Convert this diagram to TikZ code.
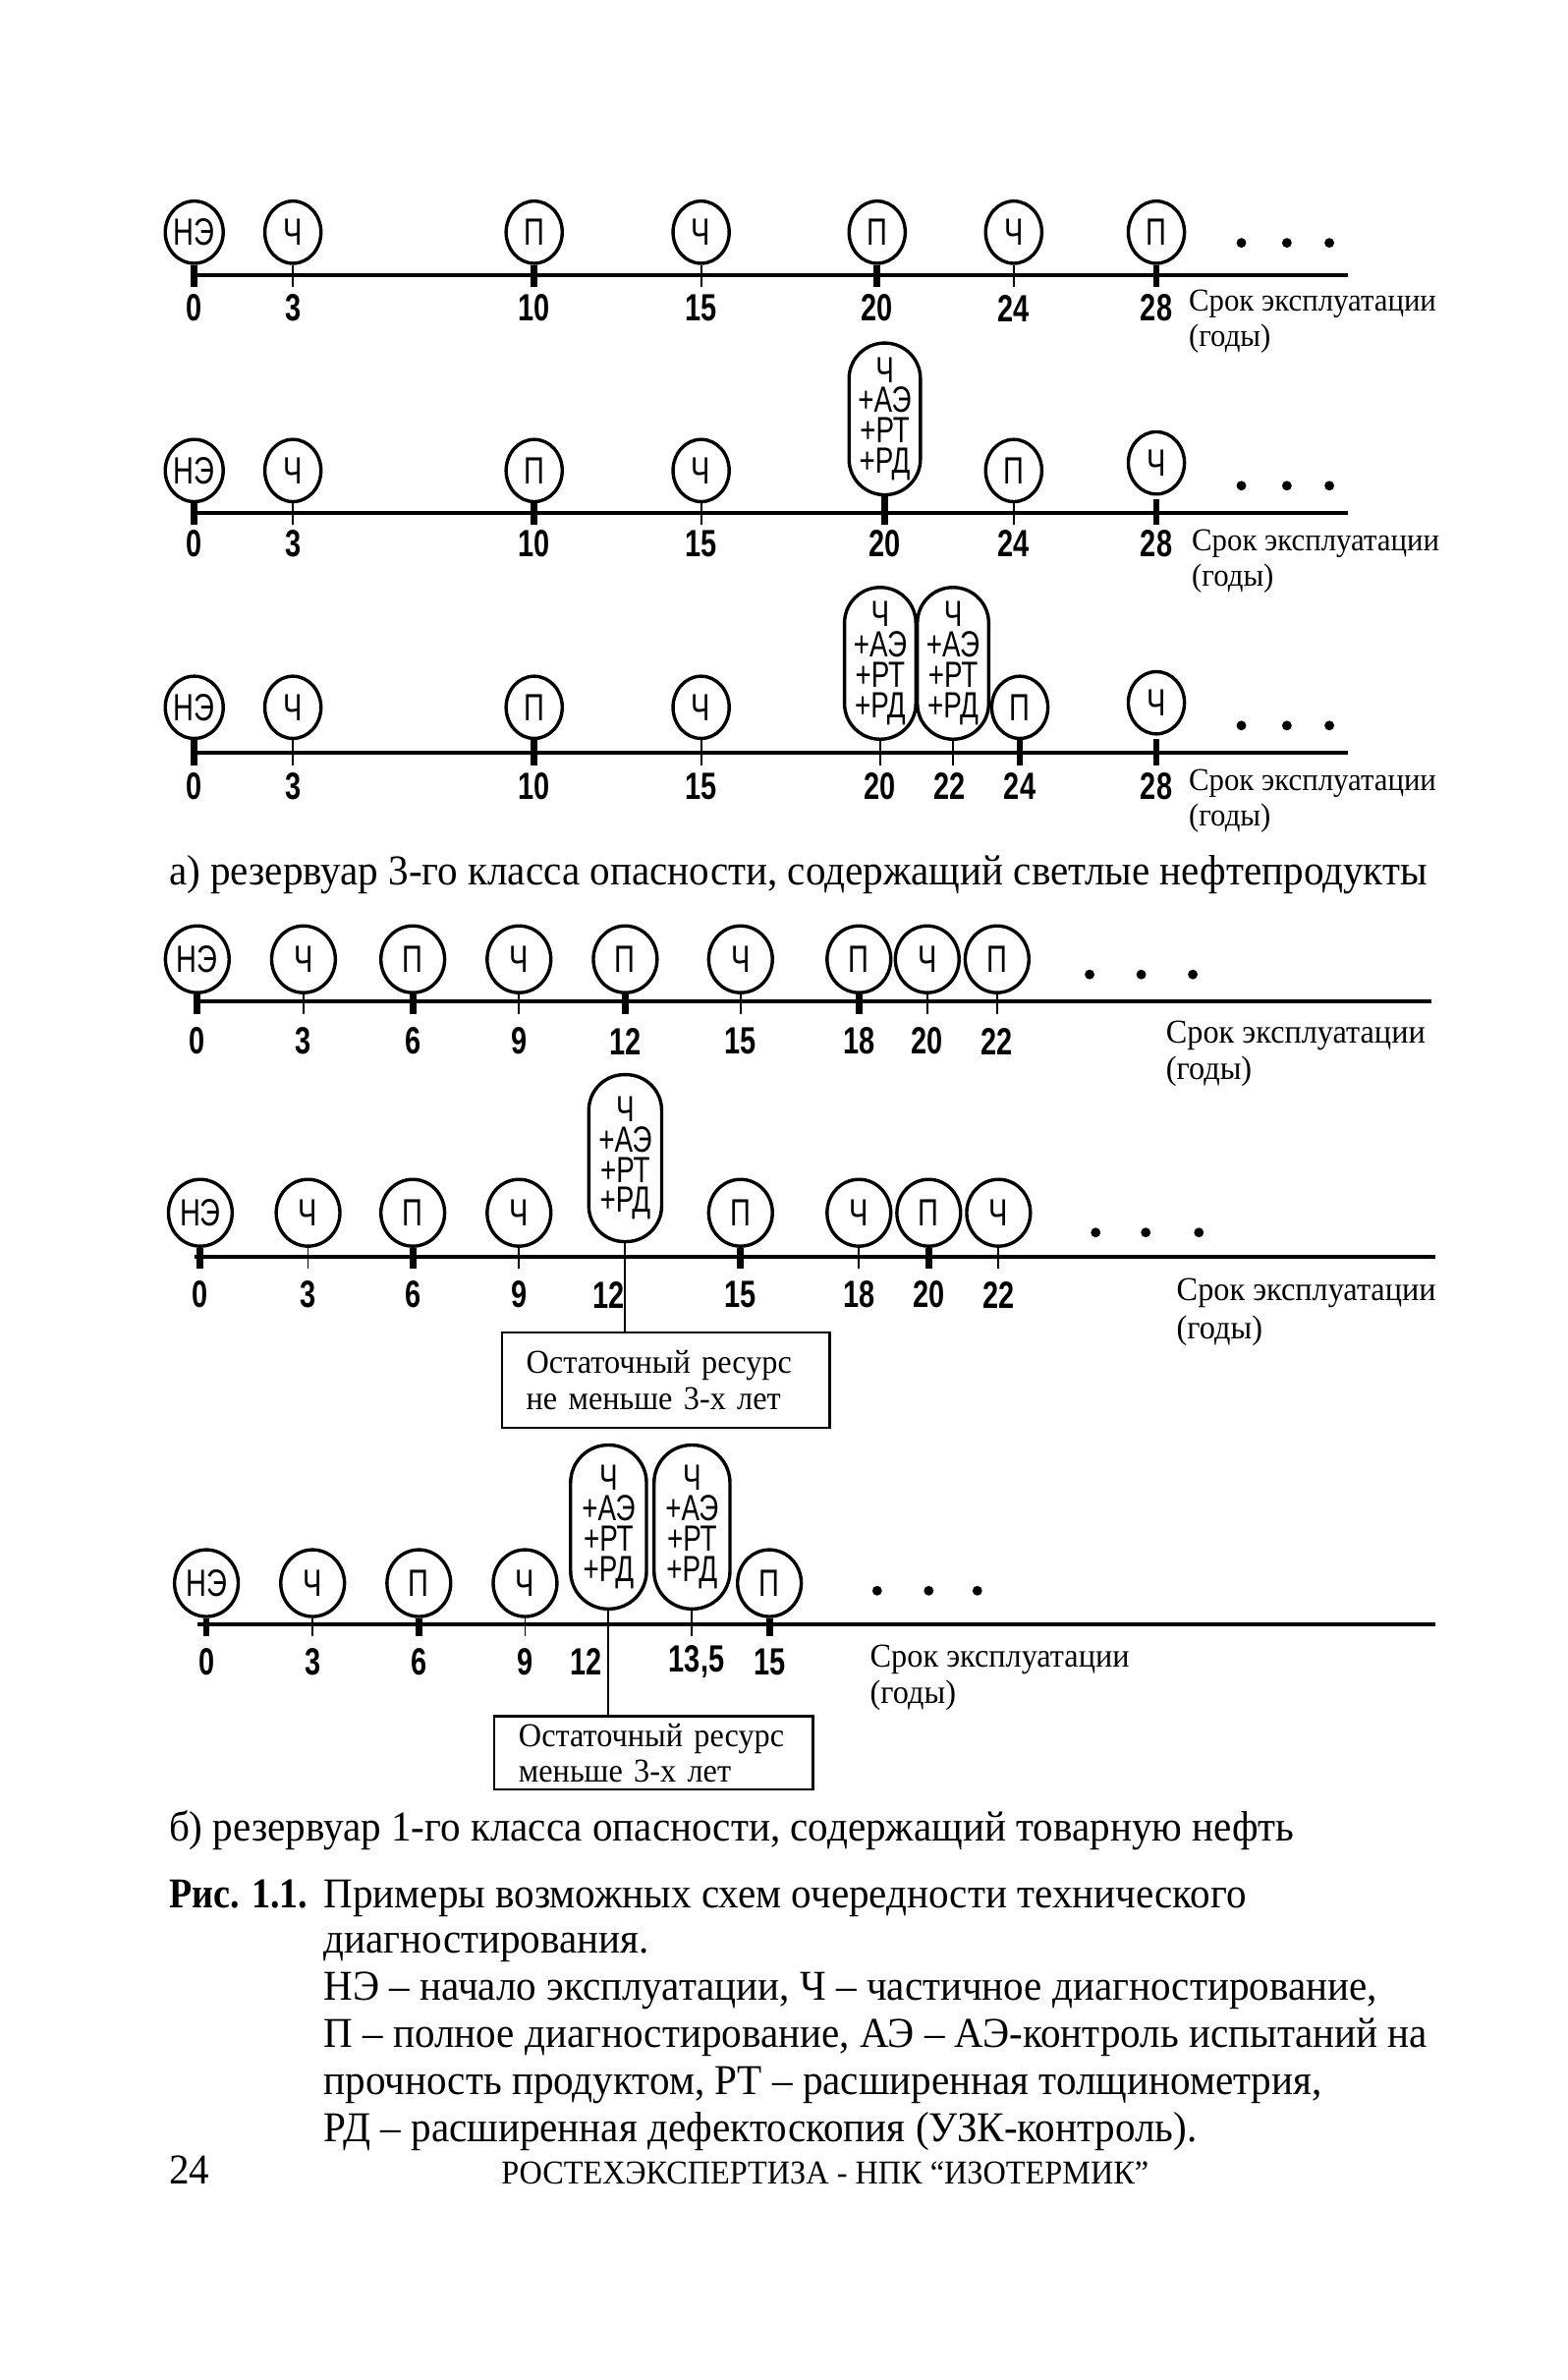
\documentclass[tikz,border=0pt]{standalone}
\usepackage{fontspec}
\setmainfont[FakeStretch=0.95]{Liberation Serif}
\newfontfamily\risf[FakeStretch=0.88]{Liberation Serif}
\newfontfamily\sansn[FakeStretch=0.75]{Liberation Sans}
\usetikzlibrary{shapes.geometric}
\begin{document}
\begin{tikzpicture}[x=0.5pt,y=-0.5pt,
  ev/.style={draw, ellipse, line width=1.1pt, inner sep=0pt, minimum width=18.5pt, minimum height=20.5pt, font=\sansn\fontsize{12.5}{14}\selectfont},
  evb/.style={ev, minimum width=21pt, minimum height=22pt},
  pill/.style={draw, line width=1.1pt, rounded corners=11.7pt, minimum width=23.5pt, inner sep=0pt, align=center, font=\sansn\fontsize{12}{10}\selectfont},
  num/.style={font=\sansn\bfseries\fontsize{12.5}{14}\selectfont, inner sep=0pt},
  axis/.style={line width=1.3pt},
  dot/.style={circle, fill, inner sep=0pt, minimum size=3.2pt},
  srok/.style={font=\fontsize{10.5}{12}\selectfont, inner sep=0pt, anchor=base west},
  srokb/.style={srok, font=\fontsize{11}{13}\selectfont},
  captxt/.style={font=\fontsize{14}{16}\selectfont, inner sep=0pt, anchor=base west},
  rbox/.style={draw, line width=0.8pt, anchor=north west, align=left, font=\fontsize{11}{13}\selectfont}
]
\fill[white] (0,0) rectangle (1033,1568);
\useasboundingbox (0,0) rectangle (1033,1568);

% ---------- Row A1 ----------
\coordinate (a1s) at (128,181); \coordinate (a1f) at (888,181);
\draw[axis] (a1s) -- (a1f);
\foreach \x/\t/\s/\n [count=\i] in {128/НЭ/2.2/0, 193/Ч/0.6/3, 352/П/2.2/10, 462/Ч/0.6/15, 578/П/2.2/20, 668/Ч/0.6/24, 762/П/2.2/28}{
  \node[ev] (a1e\i) at (\x,153) {\t};
  \coordinate (a1t\i) at (\x,189);
  \draw[line width=\s pt] (a1e\i.south) -- (a1t\i);
  \node[num] (a1n\i) at (\x,203) {\n};
}
\foreach \x [count=\i] in {818,848,876} \node[dot] (a1d\i) at (\x,160) {};
\node[srok] (a1l1) at (783,205) {Срок эксплуатации};
\node[srok] (a1l2) at (783,228) {(годы)};

% ---------- Row A2 ----------
\coordinate (a2s) at (128,338); \coordinate (a2f) at (888,338);
\draw[axis] (a2s) -- (a2f);
\foreach \x/\t/\s/\n [count=\i] in {128/НЭ/2.2/0, 193/Ч/0.6/3, 352/П/2.2/10, 462/Ч/0.6/15, 668/П/0.6/24}{
  \node[ev] (a2e\i) at (\x,310) {\t};
  \coordinate (a2t\i) at (\x,346);
  \draw[line width=\s pt] (a2e\i.south) -- (a2t\i);
  \node[num] (a2n\i) at (\x,358) {\n};
}
\node[ev] (a2e7) at (762,305) {Ч};
\coordinate (a2u7) at (762,329); \coordinate (a2t7) at (762,346);
\draw[line width=2.2pt] (a2u7) -- (a2t7);
\node[num] (a2n7) at (762,358) {28};
\node[pill, minimum height=50pt] (a2p) at (583,276) {Ч\\+АЭ\\+РТ\\+РД};
\coordinate (a2pt) at (583,346);
\draw[line width=2.2pt] (a2p.south) -- (a2pt);
\node[num] (a2n6) at (583,358) {20};
\foreach \x [count=\i] in {818,848,876} \node[dot] (a2d\i) at (\x,320) {};
\node[srok] (a2l1) at (785,363) {Срок эксплуатации};
\node[srok] (a2l2) at (785,386) {(годы)};

% ---------- Row A3 ----------
\coordinate (a3s) at (128,496); \coordinate (a3f) at (888,496);
\draw[axis] (a3s) -- (a3f);
\foreach \x/\t/\s/\n [count=\i] in {128/НЭ/2.2/0, 193/Ч/0.6/3, 352/П/2.2/10, 462/Ч/0.6/15, 672/П/2.2/24}{
  \node[ev] (a3e\i) at (\x,466) {\t};
  \coordinate (a3t\i) at (\x,504);
  \draw[line width=\s pt] (a3e\i.south) -- (a3t\i);
  \node[num] (a3n\i) at (\x,518) {\n};
}
\node[ev] (a3e8) at (762,463) {Ч};
\coordinate (a3u8) at (762,487); \coordinate (a3t8) at (762,504);
\draw[line width=2.2pt] (a3u8) -- (a3t8);
\node[num] (a3n8) at (762,518) {28};
\node[pill, minimum height=50pt] (a3p1) at (580,437) {Ч\\+АЭ\\+РТ\\+РД};
\node[pill, minimum height=50pt] (a3p2) at (628,437) {Ч\\+АЭ\\+РТ\\+РД};
\coordinate (a3pt1) at (580,504); \coordinate (a3pt2) at (628,504);
\draw[line width=0.6pt] (a3p1.south) -- (a3pt1);
\draw[line width=0.6pt] (a3p2.south) -- (a3pt2);
\node[num] (a3n6) at (580,518) {20};
\node[num] (a3n7) at (626,518) {22};
\foreach \x [count=\i] in {818,848,876} \node[dot] (a3d\i) at (\x,478) {};
\node[srok] (a3l1) at (783,521) {Срок эксплуатации};
\node[srok] (a3l2) at (783,544) {(годы)};

\node[captxt] (capa) at (111,583) {а) резервуар 3-го класса опасности, содержащий светлые нефтепродукты};

% ---------- Row B1 ----------
\coordinate (b1s) at (128,660); \coordinate (b1f) at (943,660);
\draw[axis] (b1s) -- (b1f);
\foreach \x/\t/\s/\n [count=\i] in {130/НЭ/2.2/0, 200/Ч/0.6/3, 272/П/2.2/6, 342/Ч/0.6/9, 412/П/2.2/12, 488/Ч/0.6/15, 566/П/2.2/18, 611/Ч/0.6/20, 657/П/0.6/22}{
  \node[evb] (b1e\i) at (\x,632) {\t};
  \coordinate (b1t\i) at (\x,668);
  \draw[line width=\s pt] (b1e\i.south) -- (b1t\i);
  \node[num] (b1n\i) at (\x,686) {\n};
}
\foreach \x [count=\i] in {718,752,786} \node[dot] (b1d\i) at (\x,642) {};
\node[srokb] (b1l1) at (768,687) {Срок эксплуатации};
\node[srokb] (b1l2) at (768,711) {(годы)};

% ---------- Row B2 ----------
\coordinate (b2s) at (128,828); \coordinate (b2f) at (946,828);
\draw[axis] (b2s) -- (b2f);
\foreach \x/\t/\s/\n [count=\i] in {132/НЭ/2.2/0, 203/Ч/0.6/3, 272/П/2.2/6, 342/Ч/0.6/9, 488/П/2.2/15, 566/Ч/0.6/18, 612/П/2.2/20, 658/Ч/0.6/22}{
  \node[evb] (b2e\i) at (\x,799) {\t};
  \coordinate (b2t\i) at (\x,836);
  \draw[line width=\s pt] (b2e\i.south) -- (b2t\i);
  \node[num] (b2n\i) at (\x,853) {\n};
}
\node[pill, minimum height=55pt, minimum width=24pt] (b2p) at (412,763) {Ч\\+АЭ\\+РТ\\+РД};
\node[num] (b2n9) at (401,853) {12};
\node[rbox, minimum width=108pt, minimum height=31.5pt, text width=92pt, inner xsep=8pt, inner ysep=2pt] (b2box) at (330,877) {Остаточный ресурс\\[-1pt]не меньше 3-х лет\\[1pt]};
\draw[line width=0.6pt] (b2p.south) -- (b2p.south |- b2box.north);
\foreach \x [count=\i] in {722,755,790} \node[dot] (b2d\i) at (\x,812) {};
\node[srokb] (b2l1) at (775,857) {Срок эксплуатации};
\node[srokb] (b2l2) at (775,882) {(годы)};

% ---------- Row B3 ----------
\coordinate (b3s) at (130,1070); \coordinate (b3f) at (946,1070);
\draw[axis] (b3s) -- (b3f);
\foreach \x/\t/\s/\n [count=\i] in {136/НЭ/2.2/0, 206/Ч/0.6/3, 276/П/2.2/6, 346/Ч/0.6/9, 507/П/2.2/15}{
  \node[evb] (b3e\i) at (\x,1043) {\t};
  \coordinate (b3t\i) at (\x,1078);
  \draw[line width=\s pt] (b3e\i.south) -- (b3t\i);
  \node[num] (b3n\i) at (\x,1095) {\n};
}
\node[pill, minimum height=54pt, minimum width=25pt, rounded corners=12.4pt] (b3p1) at (401,1006) {Ч\\+АЭ\\+РТ\\+РД};
\node[pill, minimum height=54pt, minimum width=25pt, rounded corners=12.4pt] (b3p2) at (456,1006) {Ч\\+АЭ\\+РТ\\+РД};
\coordinate (b3pt2) at (456,1078);
\draw[line width=0.6pt] (b3p2.south) -- (b3pt2);
\node[num] (b3n6) at (386,1095) {12};
\node[num] (b3n7) at (459,1095) {13,5};
\node[rbox, minimum width=105pt, minimum height=24pt, text width=89pt, inner xsep=8pt, inner ysep=1pt, font=\fontsize{11}{11.5}\selectfont] (b3box) at (325,1130) {Остаточный ресурс\\меньше 3-х лет};
\draw[line width=0.6pt] (b3p1.south) -- (b3p1.south |- b3box.north);
\foreach \x [count=\i] in {578,612,644} \node[dot] (b3d\i) at (\x,1048) {};
\node[srokb] (b3l1) at (573,1098) {Срок эксплуатации};
\node[srokb] (b3l2) at (573,1122) {(годы)};

\node[captxt] (capb) at (111,1213) {б) резервуар 1-го класса опасности, содержащий товарную нефть};

% ---------- Caption ----------
\node[captxt, font=\risf\bfseries\fontsize{14}{16}\selectfont] (ris) at (111,1257) {Рис. 1.1.};
\node[captxt] (c1) at (213,1257) {Примеры возможных схем очередности технического};
\node[captxt] (c2) at (213,1287) {диагностирования.};
\node[captxt] (c3) at (213,1318) {НЭ – начало эксплуатации, Ч – частичное диагностирование,};
\node[captxt] (c4) at (213,1349) {П – полное диагностирование, АЭ – АЭ-контроль испытаний на};
\node[captxt] (c5) at (213,1380) {прочность продуктом, РТ – расширенная толщинометрия,};
\node[captxt] (c6) at (213,1411) {РД – расширенная дефектоскопия (УЗК-контроль).};

\node[captxt] (pg) at (111,1439) {24};
\node[captxt, font=\fontsize{11}{13}\selectfont] (ft) at (330,1439) {РОСТЕХЭКСПЕРТИЗА - НПК “ИЗОТЕРМИК”};
\end{tikzpicture}
\end{document}
